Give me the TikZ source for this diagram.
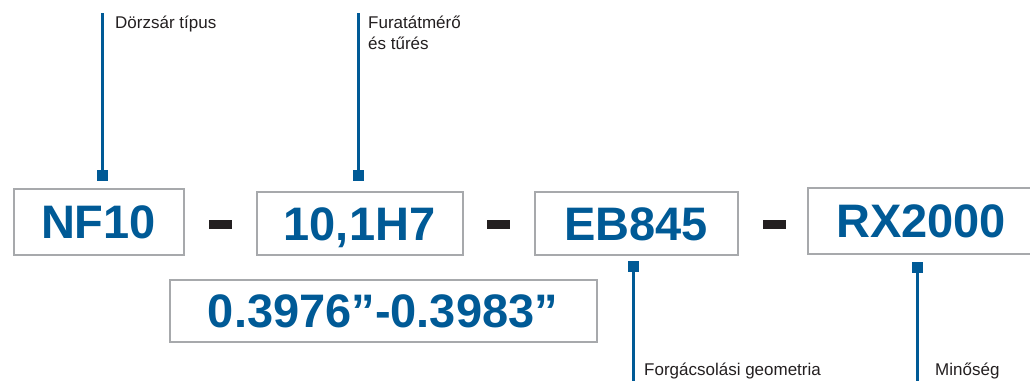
\documentclass[tikz,border=0pt]{standalone}
\usepackage{fontspec}
\setmainfont{Liberation Sans}
\usepackage{tikz}
\usetikzlibrary{positioning}
\definecolor{bluex}{HTML}{005A96}
\definecolor{grayx}{HTML}{A7A9AC}
\definecolor{inkx}{HTML}{231F20}
\tikzset{
  bx/.style={draw=grayx,line width=2pt,inner sep=0pt,text=bluex,text height=34pt,text depth=0pt,font=\fontsize{47}{47}\selectfont\bfseries},
  mk/.style={rectangle,fill=bluex,minimum size=11pt,inner sep=0pt},
  ln/.style={line width=2.2pt,bluex},
  lb/.style={font=\fontsize{17}{21}\selectfont,text=inkx,align=left,inner sep=0pt,anchor=base west},
  sep/.style={rectangle,fill=inkx,minimum width=23pt,minimum height=9pt,inner sep=0pt}
}
\begin{document}
\begin{tikzpicture}[x=1pt,y=-1pt]
\useasboundingbox (0,0) rectangle (1030,380);
% code boxes
\node[bx,minimum width=170pt,minimum height=66pt] (nf) at (98.5,221.5) {NF10};
\node[bx,minimum width=206pt,minimum height=63pt] (dia) at (359.5,223) {10,1H7};
\node[bx,minimum width=203pt,minimum height=63pt] (geo) at (636,223) {EB845};
\node[bx,minimum width=226pt,minimum height=66pt] (gr) at (921,220.5) {RX2000};
\node[bx,minimum width=427pt,minimum height=62pt] (inch) at (383,310.5) {0.3976”-0.3983”};
% separators
\node[sep] (s1) at (220.5,224.5) {};
\node[sep] (s2) at (498.5,224.5) {};
\node[sep] (s3) at (774,224.5) {};
% markers and leaders
\node[mk] (m1) at (102.5,175.5) {};
\node[mk] (m2) at (358.5,175.5) {};
\node[mk] (m3) at (633.5,266.5) {};
\node[mk] (m4) at (917.5,267.5) {};
\coordinate (t1) at (102.5,13);
\coordinate (t2) at (358.5,13);
\coordinate (t3) at (633.5,381);
\coordinate (t4) at (917.5,381);
\draw[ln] (m1.center) -- (t1);
\draw[ln] (m2.center) -- (t2);
\draw[ln] (m3.center) -- (t3);
\draw[ln] (m4.center) -- (t4);
% labels
\node[lb] (l1) at (115,28) {Dörzsár típus};
\node[lb] (l2) at (368,49) {Furatátmérő\\és tűrés};
\node[lb] (l3) at (644,375) {Forgácsolási geometria};
\node[lb] (l4) at (935,375) {Minőség};
\end{tikzpicture}
\end{document}
